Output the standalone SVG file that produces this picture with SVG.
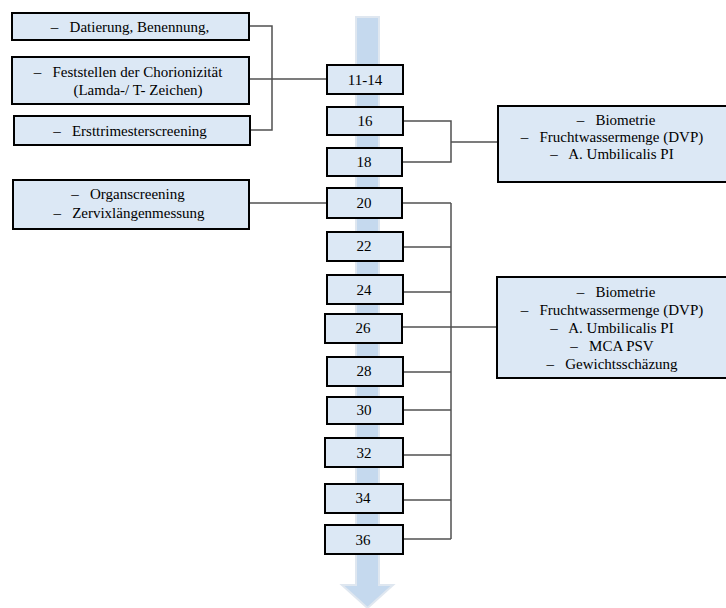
<svg xmlns="http://www.w3.org/2000/svg" width="726" height="608" viewBox="0 0 726 608">
<style>
.box{fill:#dce8f5;stroke:#000;stroke-width:2}
.t{font-family:"Liberation Serif",serif;font-size:15px;fill:#000;text-anchor:middle;dominant-baseline:central;white-space:pre}
.c{fill:none;stroke:#505050;stroke-width:1.5}
</style>
<rect width="726" height="608" fill="#fff"/>
<g id="timeline-arrow">
<polygon points="356,17 379,17 379,585 393,585 367.5,608 342,585 356,585" fill="#c5d9ee" stroke="#dfe7f0" stroke-width="2"/>
</g>
<g id="connectors">
<polyline class="c" points="249,26 272,26 272,130 250,130"/>
<line class="c" x1="249" y1="79" x2="327" y2="79"/>
<line class="c" x1="249" y1="203" x2="327" y2="203"/>
<polyline class="c" points="403,121 451,121 451,162 402,162"/>
<line class="c" x1="451" y1="142" x2="498" y2="142"/>
<line class="c" x1="402" y1="203" x2="451" y2="203"/>
<line class="c" x1="451" y1="203" x2="451" y2="539"/>
<line class="c" x1="403" y1="247" x2="451" y2="247"/>
<line class="c" x1="403" y1="292" x2="451" y2="292"/>
<line class="c" x1="402" y1="327" x2="497" y2="327"/>
<line class="c" x1="403" y1="372" x2="451" y2="372"/>
<line class="c" x1="403" y1="410" x2="451" y2="410"/>
<line class="c" x1="403" y1="455" x2="451" y2="455"/>
<line class="c" x1="403" y1="500" x2="451" y2="500"/>
<line class="c" x1="403" y1="539" x2="451" y2="539"/>
</g>
<g id="left-dating">
<rect class="box" x="12" y="13" width="237" height="27"/>
<text class="t" x="130" y="27" xml:space="preserve">–   Datierung, Benennung,</text>
</g>
<g id="left-chorion">
<rect class="box" x="12" y="57" width="237" height="47"/>
<text class="t" x="128" y="72" xml:space="preserve">–   Feststellen der Chorionizität</text>
<text class="t" x="138" y="90">(Lamda-/ T- Zeichen)</text>
</g>
<g id="left-ersttrimester">
<rect class="box" x="14" y="116" width="236" height="29"/>
<text class="t" x="130" y="131" xml:space="preserve">–   Ersttrimesterscreening</text>
</g>
<g id="left-organ">
<rect class="box" x="13" y="180" width="236" height="49"/>
<text class="t" x="128" y="194" xml:space="preserve">–   Organscreening</text>
<text class="t" x="129" y="213" xml:space="preserve">–   Zervixlängenmessung</text>
</g>
<g id="w11-14"><rect class="box" x="327" y="65" width="76" height="29"/><text class="t" x="365" y="80">11-14</text></g>
<g id="w16"><rect class="box" x="327" y="107" width="76" height="28"/><text class="t" x="365" y="121">16</text></g>
<g id="w18"><rect class="box" x="327" y="148" width="75" height="28"/><text class="t" x="364" y="162">18</text></g>
<g id="w20"><rect class="box" x="327" y="188" width="75" height="30"/><text class="t" x="364" y="203">20</text></g>
<g id="w22"><rect class="box" x="327" y="232" width="76" height="29"/><text class="t" x="364" y="246">22</text></g>
<g id="w24"><rect class="box" x="327" y="275" width="76" height="29"/><text class="t" x="364" y="290">24</text></g>
<g id="w26"><rect class="box" x="325" y="314" width="77" height="29"/><text class="t" x="363" y="328">26</text></g>
<g id="w28"><rect class="box" x="327" y="357" width="76" height="29"/><text class="t" x="364" y="371">28</text></g>
<g id="w30"><rect class="box" x="327" y="397" width="76" height="27"/><text class="t" x="364" y="410">30</text></g>
<g id="w32"><rect class="box" x="325" y="438" width="78" height="29"/><text class="t" x="364" y="453">32</text></g>
<g id="w34"><rect class="box" x="325" y="484" width="78" height="29"/><text class="t" x="363" y="498">34</text></g>
<g id="w36"><rect class="box" x="325" y="525" width="78" height="29"/><text class="t" x="363" y="540">36</text></g>
<g id="right-16-18">
<rect class="box" x="498" y="106" width="232" height="76"/>
<text class="t" x="616" y="120" xml:space="preserve">–   Biometrie</text>
<text class="t" x="612" y="137" xml:space="preserve">–   Fruchtwassermenge (DVP)</text>
<text class="t" x="612" y="154" xml:space="preserve">–   A. Umbilicalis PI</text>
</g>
<g id="right-20-36">
<rect class="box" x="497" y="277" width="232" height="101"/>
<text class="t" x="616" y="292" xml:space="preserve">–   Biometrie</text>
<text class="t" x="612" y="310" xml:space="preserve">–   Fruchtwassermenge (DVP)</text>
<text class="t" x="612" y="328" xml:space="preserve">–   A. Umbilicalis PI</text>
<text class="t" x="612" y="346" xml:space="preserve">–   MCA PSV</text>
<text class="t" x="612" y="364" xml:space="preserve">–   Gewichtsschäzung</text>
</g>
</svg>
